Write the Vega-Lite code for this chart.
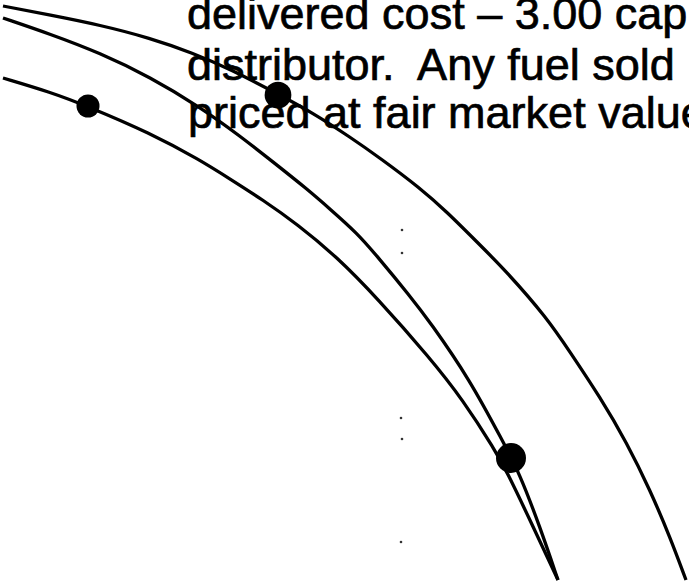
{
  "$schema": "https://vega.github.io/schema/vega-lite/v6.json",
  "width": 689,
  "height": 583,
  "padding": 0,
  "autosize": {"type": "none"},
  "background": "white",
  "config": {"view": {"stroke": null}},
  "datasets": {
    "curves": [
      {"series": "A", "x": 3, "y": 6}, {"series": "A", "x": 50, "y": 15}, {"series": "A", "x": 100, "y": 25}, {"series": "A", "x": 150, "y": 38}, {"series": "A", "x": 193, "y": 53}, {"series": "A", "x": 230, "y": 69}, {"series": "A", "x": 278, "y": 94}, {"series": "A", "x": 313, "y": 113}, {"series": "A", "x": 350, "y": 137}, {"series": "A", "x": 380, "y": 158}, {"series": "A", "x": 420, "y": 188}, {"series": "A", "x": 447, "y": 212}, {"series": "A", "x": 477, "y": 242}, {"series": "A", "x": 507, "y": 272}, {"series": "A", "x": 547, "y": 318}, {"series": "A", "x": 570, "y": 352}, {"series": "A", "x": 600, "y": 397}, {"series": "A", "x": 627, "y": 443}, {"series": "A", "x": 650, "y": 490}, {"series": "A", "x": 670, "y": 537}, {"series": "A", "x": 686, "y": 580},
      {"series": "B", "x": 3, "y": 18}, {"series": "B", "x": 50, "y": 34}, {"series": "B", "x": 100, "y": 53}, {"series": "B", "x": 150, "y": 77}, {"series": "B", "x": 200, "y": 107}, {"series": "B", "x": 240, "y": 136}, {"series": "B", "x": 273, "y": 162}, {"series": "B", "x": 307, "y": 189}, {"series": "B", "x": 330, "y": 209}, {"series": "B", "x": 357, "y": 233}, {"series": "B", "x": 377, "y": 256}, {"series": "B", "x": 410, "y": 296}, {"series": "B", "x": 430, "y": 322}, {"series": "B", "x": 470, "y": 380}, {"series": "B", "x": 502, "y": 440}, {"series": "B", "x": 519, "y": 472}, {"series": "B", "x": 540, "y": 527}, {"series": "B", "x": 558, "y": 580},
      {"series": "C", "x": 3, "y": 78}, {"series": "C", "x": 50, "y": 92}, {"series": "C", "x": 87, "y": 106}, {"series": "C", "x": 150, "y": 133}, {"series": "C", "x": 200, "y": 160}, {"series": "C", "x": 230, "y": 179}, {"series": "C", "x": 263, "y": 200}, {"series": "C", "x": 297, "y": 224}, {"series": "C", "x": 337, "y": 257}, {"series": "C", "x": 377, "y": 298}, {"series": "C", "x": 430, "y": 358}, {"series": "C", "x": 463, "y": 400}, {"series": "C", "x": 495, "y": 450}, {"series": "C", "x": 507, "y": 472}, {"series": "C", "x": 530, "y": 520}, {"series": "C", "x": 558, "y": 580}
    ],
    "dots": [
      {"dot": "left", "x": 88, "y": 106},
      {"dot": "top", "x": 278, "y": 95},
      {"dot": "low", "x": 511, "y": 458}
    ],
    "specks": [
      {"x": 402, "y": 230}, {"x": 402, "y": 253}, {"x": 401, "y": 418}, {"x": 402, "y": 439}, {"x": 401, "y": 542}
    ],
    "lines": [
      {"x": 187, "y": 29, "label": "delivered cost – 3.00 cap"},
      {"x": 187, "y": 80, "label": "distributor.\u00a0 Any fuel sold"},
      {"x": 188, "y": 128, "label": "priced at fair market value"}
    ]
  },
  "layer": [
    {
      "data": {"name": "curves"},
      "mark": {"type": "line", "interpolate": "basis", "strokeWidth": 3.3, "color": "black", "clip": true},
      "encoding": {
        "x": {"field": "x", "type": "quantitative", "scale": {"domain": [0, 689], "nice": false, "zero": false}, "axis": null},
        "y": {"field": "y", "type": "quantitative", "scale": {"domain": [0, 583], "nice": false, "zero": false, "reverse": true}, "axis": null},
        "detail": {"field": "series", "type": "nominal"}
      }
    },
    {
      "data": {"name": "specks"},
      "mark": {"type": "point", "filled": true, "color": "black", "size": 7, "opacity": 0.8},
      "encoding": {
        "x": {"field": "x", "type": "quantitative"},
        "y": {"field": "y", "type": "quantitative"}
      }
    },
    {
      "data": {"name": "lines"},
      "mark": {"type": "text", "align": "left", "baseline": "alphabetic", "font": "Liberation Sans", "fontSize": 45, "color": "black", "stroke": "black", "strokeWidth": 0.7, "clip": true},
      "encoding": {
        "x": {"field": "x", "type": "quantitative"},
        "y": {"field": "y", "type": "quantitative"},
        "text": {"field": "label", "type": "nominal"}
      }
    },
    {
      "data": {"name": "dots"},
      "mark": {"type": "point", "filled": true, "color": "black", "opacity": 1, "shape": "circle"},
      "encoding": {
        "x": {"field": "x", "type": "quantitative"},
        "y": {"field": "y", "type": "quantitative"},
        "size": {"field": "dot", "type": "nominal", "scale": {"domain": ["left", "top", "low"], "range": [530, 900, 680]}, "legend": null}
      }
    }
  ]
}
